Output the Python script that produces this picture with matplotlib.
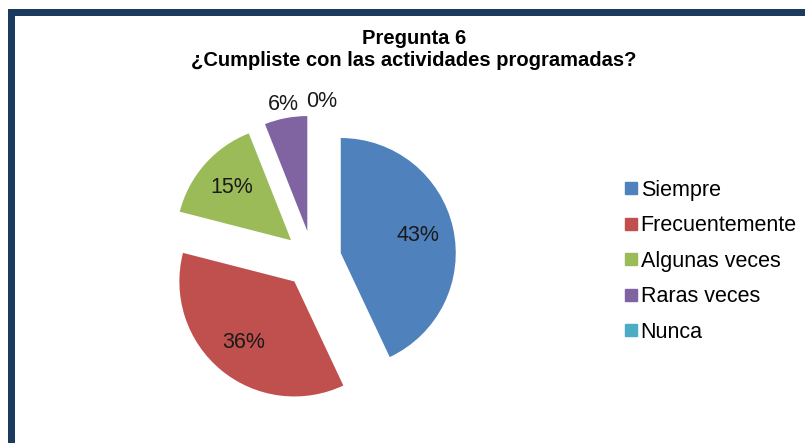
import matplotlib
matplotlib.use("Agg")
import matplotlib.pyplot as plt
from matplotlib.patches import Rectangle
from matplotlib.lines import Line2D
import numpy as np

plt.rcParams['font.family'] = ['Liberation Sans', 'DejaVu Sans']

title_lines = ["Pregunta 6", "¿Cumpliste con las actividades programadas?"]
categories = ["Siempre", "Frecuentemente", "Algunas veces", "Raras veces", "Nunca"]
values = [43, 36, 15, 6, 0]
colors = ["#4F81BD", "#C0504D", "#9BBB59", "#8064A2", "#4BACC6"]
frame_color = "#1B3A5E"

W, H = 808, 443
fig = plt.figure(figsize=(W / 100, H / 100), dpi=100)
fig.patch.set_facecolor("white")

# frame (top and left bands)
fig.add_artist(Rectangle((8 / W, 1 - 16 / H), (805 - 8) / W, 7 / H,
                         transform=fig.transFigure, color=frame_color, lw=0))
fig.add_artist(Rectangle((8 / W, 0), 7 / W, 1 - 9 / H,
                         transform=fig.transFigure, color=frame_color, lw=0))

# pie axes: 115 px per data unit, centre at (312.7, 259.3) px
scale = 115.0
cx, cy = 312.7, 259.3
xl, xr = -2.0, 2.0
yb, yt = -1.6, 1.6
left_px = cx + xl * scale
top_px = cy - yt * scale
ax = fig.add_axes([left_px / W, 1 - (top_px + (yt - yb) * scale) / H,
                   (xr - xl) * scale / W, (yt - yb) * scale / H])
ax.set_xlim(xl, xr)
ax.set_ylim(yb, yt)
ax.axis("off")

wedges, _ = ax.pie(values, colors=colors, startangle=90, counterclock=False,
                   explode=[0.25] * len(values), radius=1.0,
                   wedgeprops=dict(linewidth=0))
ax.set_xlim(xl, xr)
ax.set_ylim(yb, yt)
ax.set_aspect("auto")

for w, v in zip(wedges, values):
    mid = np.deg2rad((w.theta1 + w.theta2) / 2)
    c = np.array(w.center)
    if v >= 10:
        d = 0.69
        pos = c + d * np.array([np.cos(mid), np.sin(mid)])
    else:
        d = 1.12
        pos = c + d * np.array([np.cos(mid), np.sin(mid)])
        if v == 0:
            pos = pos + np.array([0.08, 0.0])
    ax.text(pos[0], pos[1], f"{v}%", ha="center", va="center", fontsize=15.5,
            color="#1a1a1a")

# title
fig.text(414 / W, 1 - 39 / H, title_lines[0], ha="center", va="center",
         fontsize=14.5, fontweight="bold")
fig.text(414 / W, 1 - 61 / H, title_lines[1], ha="center", va="center",
         fontsize=14.5, fontweight="bold")

# legend
handles = [Line2D([0], [0], marker="s", linestyle="none", markersize=8,
                  markerfacecolor=c, markeredgecolor=c) for c in colors]
fig.legend(handles, categories, loc="upper left",
           bbox_to_anchor=(623 / W, 1 - 180 / H), frameon=False,
           fontsize=15.5, handlelength=0.7, handletextpad=0.12,
           labelspacing=0.67, borderaxespad=0, borderpad=0)

fig.savefig("out.png", dpi=100, facecolor="white")
